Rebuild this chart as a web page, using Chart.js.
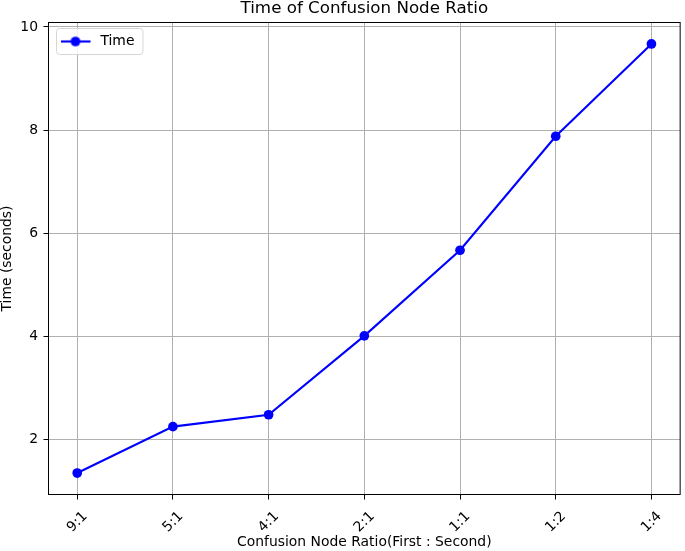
<!DOCTYPE html>
<html>
<head>
<meta charset="utf-8">
<script src="https://cdn.jsdelivr.net/npm/chart.js@4.4.1/dist/chart.umd.min.js"></script>
<style>
  html, body { margin: 0; padding: 0; background: #fff; }
  canvas { display: block; }
</style>
</head>
<body>
<canvas id="timeChart" width="685" height="551"></canvas>
<script>
// ── data ──
const ratioLabels = ['9:1', '5:1', '4:1', '2:1', '1:1', '1:2', '1:4'];
const timeValues = [1.35, 2.25, 2.48, 4.01, 5.67, 7.88, 9.67];
const yTickValues = [2, 4, 6, 8, 10];

const FONT = 'DejaVu Sans';
const BLUE = '#0000ff';
const MARKER_R = 4.85;

// legend swatch: line with a circle marker, like matplotlib
function makeLegendSwatch() {
  const c = document.createElement('canvas');
  c.width = 33; c.height = 12;
  const g = c.getContext('2d');
  g.strokeStyle = BLUE; g.lineWidth = 2.1;
  g.beginPath(); g.moveTo(0, 6); g.lineTo(30, 6); g.stroke();
  g.fillStyle = BLUE;
  g.beginPath(); g.arc(15, 6, MARKER_R, 0, Math.PI * 2); g.fill();
  return c;
}
const swatch = makeLegendSwatch();

// legend in 'chartArea' gets its top reset to 0 — move it into the plot
const legendPlacePlugin = {
  id: 'legendPlace',
  afterLayout(chart) {
    const lg = chart.legend;
    if (!lg) return;
    const dy = chart.chartArea.top - lg.top;
    lg.top += dy;
    lg.bottom += dy;
    (lg.legendHitBoxes || []).forEach(h => { h.top += dy; });
  }
};

// frame + legend box, drawn over the grid
const framePlugin = {
  id: 'frame',
  beforeDatasetsDraw(chart) {
    const { ctx, chartArea: a } = chart;
    const hb = chart.legend && chart.legend.legendHitBoxes && chart.legend.legendHitBoxes[0];
    if (hb) {
      const cy = hb.top + hb.height / 2;
      const x0 = hb.left - 5, x1 = hb.left + hb.width + 7.5;
      const y0 = cy - 13, y1 = cy + 13;
      ctx.save();
      ctx.beginPath();
      ctx.roundRect(Math.round(x0) + 0.5, Math.round(y0) + 0.5, x1 - x0, y1 - y0, 3);
      ctx.fillStyle = 'rgba(255,255,255,0.85)';
      ctx.fill();
      ctx.strokeStyle = '#d6d6d6';
      ctx.lineWidth = 1;
      ctx.stroke();
      ctx.restore();
      chart.legend.draw();
    }
    ctx.save();
    ctx.strokeStyle = '#000';
    ctx.lineWidth = 1;
    ctx.strokeRect(a.left, a.top, a.right - a.left, a.bottom - a.top);
    ctx.restore();
  }
};

new Chart(document.getElementById('timeChart'), {
  type: 'line',
  data: {
    datasets: [{
      label: 'Time',
      data: timeValues.map((v, i) => ({ x: i, y: v })),
      borderColor: BLUE,
      backgroundColor: BLUE,
      borderWidth: 2.1,
      pointRadius: MARKER_R,
      pointBorderWidth: 0,
      pointBackgroundColor: BLUE,
      tension: 0,
      clip: false
    }]
  },
  options: {
    responsive: false,
    animation: false,
    devicePixelRatio: 1,
    layout: { padding: { left: 0, right: 1.5, top: 0, bottom: 0 } },
    plugins: {
      title: {
        display: true,
        text: 'Time of Confusion Node Ratio',
        fullSize: false,
        color: '#000',
        font: { family: FONT, size: 16.7, weight: 'normal', lineHeight: 1 },
        padding: { top: 0.7, bottom: 5.1 }
      },
      legend: {
        position: 'chartArea',
        align: 'start',
        labels: {
          usePointStyle: true,
          pointStyle: swatch,
          pointStyleWidth: 33,
          padding: 12,
          color: '#000',
          font: { family: FONT, size: 13.9 },
          generateLabels: () => [{
            text: 'Time', pointStyle: swatch, fillStyle: BLUE,
            strokeStyle: BLUE, lineWidth: 0, datasetIndex: 0, hidden: false
          }]
        }
      },
      tooltip: { enabled: false }
    },
    scales: {
      x: {
        type: 'linear',
        min: -0.3,
        max: 6.3,
        afterBuildTicks: (s) => { s.ticks = ratioLabels.map((_, i) => ({ value: i })); },
        afterFit: (s) => { s.height = 56.5; },
        border: { display: false },
        grid: { color: '#b0b0b0', lineWidth: 1, tickColor: '#000', tickLength: 5 },
        ticks: {
          callback: (v) => ratioLabels[v],
          color: '#000',
          font: { family: FONT, size: 13.9 },
          minRotation: 45,
          maxRotation: 45,
          labelOffset: 8,
          padding: 8.8,
          autoSkip: false
        },
        title: {
          display: true,
          text: 'Confusion Node Ratio(First : Second)',
          color: '#000',
          font: { family: FONT, size: 13.9, lineHeight: 1.2 },
          padding: 0
        }
      },
      y: {
        type: 'linear',
        min: 0.934,
        max: 10.086,
        afterBuildTicks: (s) => { s.ticks = yTickValues.map(v => ({ value: v })); },
        afterFit: (s) => { s.width = 48.5; },
        border: { display: false },
        grid: { color: '#b0b0b0', lineWidth: 1, tickColor: '#000', tickLength: 5 },
        ticks: {
          color: '#000',
          font: { family: FONT, size: 13.9 },
          padding: 5.5
        },
        title: {
          display: true,
          text: 'Time (seconds)',
          color: '#000',
          font: { family: FONT, size: 13.9, lineHeight: 1.1 },
          padding: 0
        }
      }
    }
  },
  plugins: [legendPlacePlugin, framePlugin]
});
</script>
</body>
</html>
